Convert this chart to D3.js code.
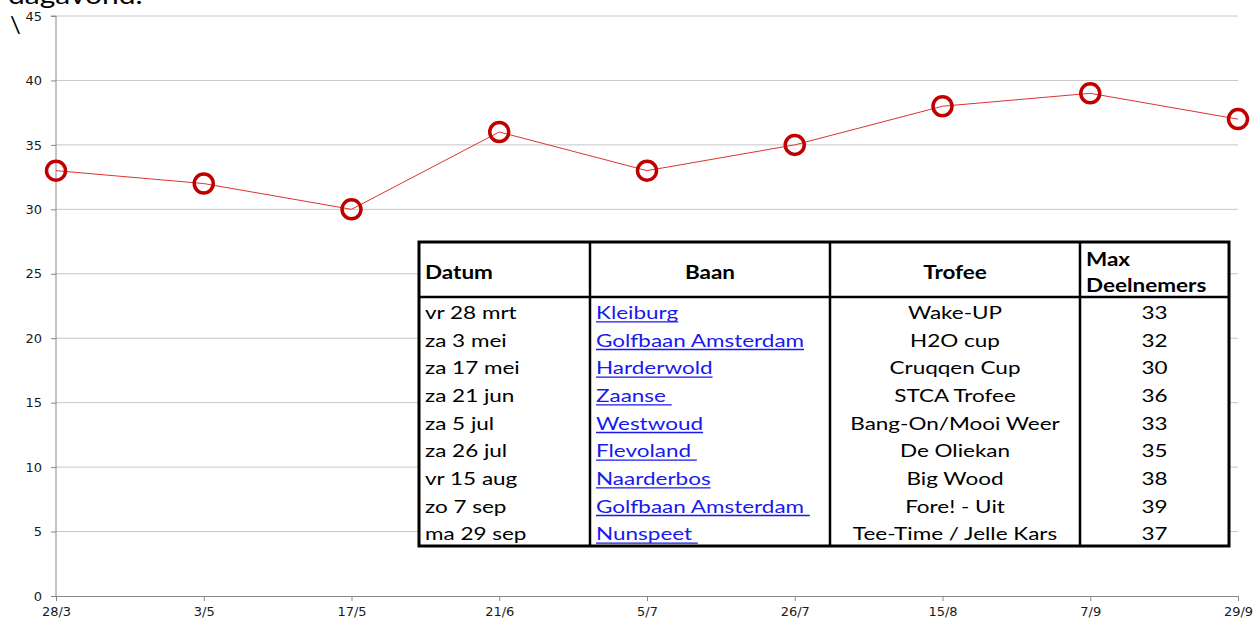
<!DOCTYPE html>
<html>
<head>
<meta charset="utf-8">
<script src="https://cdn.jsdelivr.net/npm/d3@7"></script>
<style>
  body { margin: 0; background: #fff; }
  svg { display: block; }
</style>
</head>
<body>
<svg id="chart"></svg>
<script>
// data
const dates = ["28/3", "3/5", "17/5", "21/6", "5/7", "26/7", "15/8", "7/9", "29/9"];
const deelnemers = [33, 32, 30, 36, 33, 35, 38, 39, 37];
const yTicks = [0, 5, 10, 15, 20, 25, 30, 35, 40, 45];

// table contents
const datum = ["vr 28 mrt", "za 3 mei", "za 17 mei", "za 21 jun", "za 5 jul", "za 26 jul", "vr 15 aug", "zo 7 sep", "ma 29 sep"];
const baan = ["Kleiburg", "Golfbaan Amsterdam", "Harderwold", "Zaanse\u00a0", "Westwoud", "Flevoland\u00a0", "Naarderbos", "Golfbaan Amsterdam\u00a0", "Nunspeet\u00a0"];
const trofee = ["Wake-UP", "H2O cup", "Cruqqen Cup", "STCA Trofee", "Bang-On/Mooi Weer", "De Oliekan", "Big Wood", "Fore! - Uit", "Tee-Time / Jelle Kars"];
const headers = ["Datum", "Baan", "Trofee", ["Max", "Deelnemers"]];

const width = 1259, height = 621;
const margin = {top: 16, right: 21, bottom: 25, left: 56};

const svg = d3.select("#chart")
    .attr("width", width)
    .attr("height", height);

// partial text above the chart (cut off at the top in the original)
svg.append("text")
    .attr("transform", "translate(8,4) scale(1.2,1)")
    .attr("font-family", "Lato, sans-serif")
    .attr("font-size", 25)
    .text("dagavond.");
svg.append("text")
    .attr("x", 10).attr("y", 33)
    .attr("font-family", "Lato, sans-serif")
    .attr("font-size", 24)
    .text("\\");

const x = d3.scalePoint()
    .domain(dates)
    .range([margin.left, width - margin.right]);

const y = d3.scaleLinear()
    .domain([0, 45])
    .range([height - margin.bottom, margin.top]);

// gridlines
svg.append("g")
    .selectAll("line")
    .data(yTicks.slice(1))
    .join("line")
    .attr("x1", margin.left)
    .attr("x2", width - margin.right)
    .attr("y1", d => y(d))
    .attr("y2", d => y(d))
    .attr("stroke", "#c6c6c6")
    .attr("stroke-width", 1);

// y axis
const yAxis = svg.append("g")
    .attr("transform", `translate(${margin.left},0)`)
    .call(d3.axisLeft(y).tickValues(yTicks).tickSize(5).tickPadding(9));
yAxis.select(".domain").attr("stroke", "#888").attr("d", `M-5,${y(45)}H0V${y(0)}`);
yAxis.selectAll(".tick line").attr("stroke", "#888");
yAxis.selectAll("text")
    .attr("font-family", "DejaVu Sans, Verdana, sans-serif")
    .attr("font-size", 13)
    .attr("fill", "#1a1a1a");

// x axis
const xAxis = svg.append("g")
    .attr("transform", `translate(0,${y(0)})`)
    .call(d3.axisBottom(x).tickSize(5).tickPadding(6).tickSizeOuter(0));
xAxis.select(".domain").attr("stroke", "#888");
xAxis.selectAll(".tick line").attr("stroke", "#888");
xAxis.selectAll("text")
    .attr("font-family", "DejaVu Sans, Verdana, sans-serif")
    .attr("font-size", 13)
    .attr("fill", "#1a1a1a");

// line + markers
const line = d3.line()
    .x((d, i) => x(dates[i]))
    .y(d => y(d));

svg.append("path")
    .datum(deelnemers)
    .attr("d", line)
    .attr("fill", "none")
    .attr("stroke", "#dd3333")
    .attr("stroke-width", 1);

svg.append("g")
    .selectAll("circle")
    .data(deelnemers)
    .join("circle")
    .attr("cx", (d, i) => x(dates[i]))
    .attr("cy", d => y(d))
    .attr("r", 9.5)
    .attr("fill", "none")
    .attr("stroke", "#c00000")
    .attr("stroke-width", 3.5);

// table overlay
const colEdges = [419, 590, 830, 1080, 1229];
const tableTop = 242, headBottom = 297, tableBottom = 546;
const rowH = (tableBottom - headBottom) / datum.length;
const font = "Lato, Calibri, sans-serif";
const fs = 18;
const sx = 1.25; // the original text is a wide Calibri; stretch Lato to match

const table = svg.append("g");
table.append("rect")
    .attr("x", colEdges[0]).attr("y", tableTop)
    .attr("width", colEdges[4] - colEdges[0])
    .attr("height", tableBottom - tableTop)
    .attr("fill", "#fff");

function cell(parent, tx, ty, anchor) {
  return parent.append("text")
      .attr("transform", `translate(${tx},${ty}) scale(${sx},1)`)
      .attr("text-anchor", anchor)
      .attr("font-family", font)
      .attr("font-size", fs)
      .attr("fill", "#000");
}

// header
headers.forEach((h, c) => {
  if (Array.isArray(h)) {
    h.forEach((s, k) => cell(table, colEdges[c] + 6, 266 + k * 26, "start")
        .attr("font-weight", "bold").text(s));
  } else if (c === 0) {
    cell(table, colEdges[c] + 6, 279, "start").attr("font-weight", "bold").text(h);
  } else {
    cell(table, (colEdges[c] + colEdges[c + 1]) / 2, 279, "middle").attr("font-weight", "bold").text(h);
  }
});

const rows = table.selectAll("g.row")
    .data(datum.map((d, i) => ({datum: d, baan: baan[i], trofee: trofee[i], max: deelnemers[i]})))
    .join("g")
    .attr("class", "row")
    .attr("transform", (d, i) => `translate(0,${headBottom + rowH * (i + 0.5) + 8})`);

rows.each(function(d) {
  const g = d3.select(this);
  cell(g, colEdges[0] + 6, 0, "start").text(d.datum);
  const link = cell(g, colEdges[1] + 6, 0, "start")
      .attr("fill", "#1a1aee")
      .attr("xml:space", "preserve")
      .text(d.baan);
  const w = link.node().getComputedTextLength() * sx;
  g.append("line")
      .attr("x1", colEdges[1] + 6).attr("x2", colEdges[1] + 6 + w)
      .attr("y1", 3).attr("y2", 3)
      .attr("stroke", "#1a1aee").attr("stroke-width", 1.4);
  cell(g, (colEdges[2] + colEdges[3]) / 2, 0, "middle").text(d.trofee);
  cell(g, (colEdges[3] + colEdges[4]) / 2, 0, "middle").text(d.max);
});

// borders
table.append("rect")
    .attr("x", colEdges[0]).attr("y", tableTop)
    .attr("width", colEdges[4] - colEdges[0])
    .attr("height", tableBottom - tableTop)
    .attr("fill", "none").attr("stroke", "#000").attr("stroke-width", 3);
table.append("line")
    .attr("x1", colEdges[0]).attr("x2", colEdges[4])
    .attr("y1", headBottom).attr("y2", headBottom)
    .attr("stroke", "#000").attr("stroke-width", 2.5);
table.selectAll("line.col")
    .data(colEdges.slice(1, 4))
    .join("line")
    .attr("class", "col")
    .attr("x1", d => d).attr("x2", d => d)
    .attr("y1", tableTop).attr("y2", tableBottom)
    .attr("stroke", "#000").attr("stroke-width", 2.5);
</script>
</body>
</html>
